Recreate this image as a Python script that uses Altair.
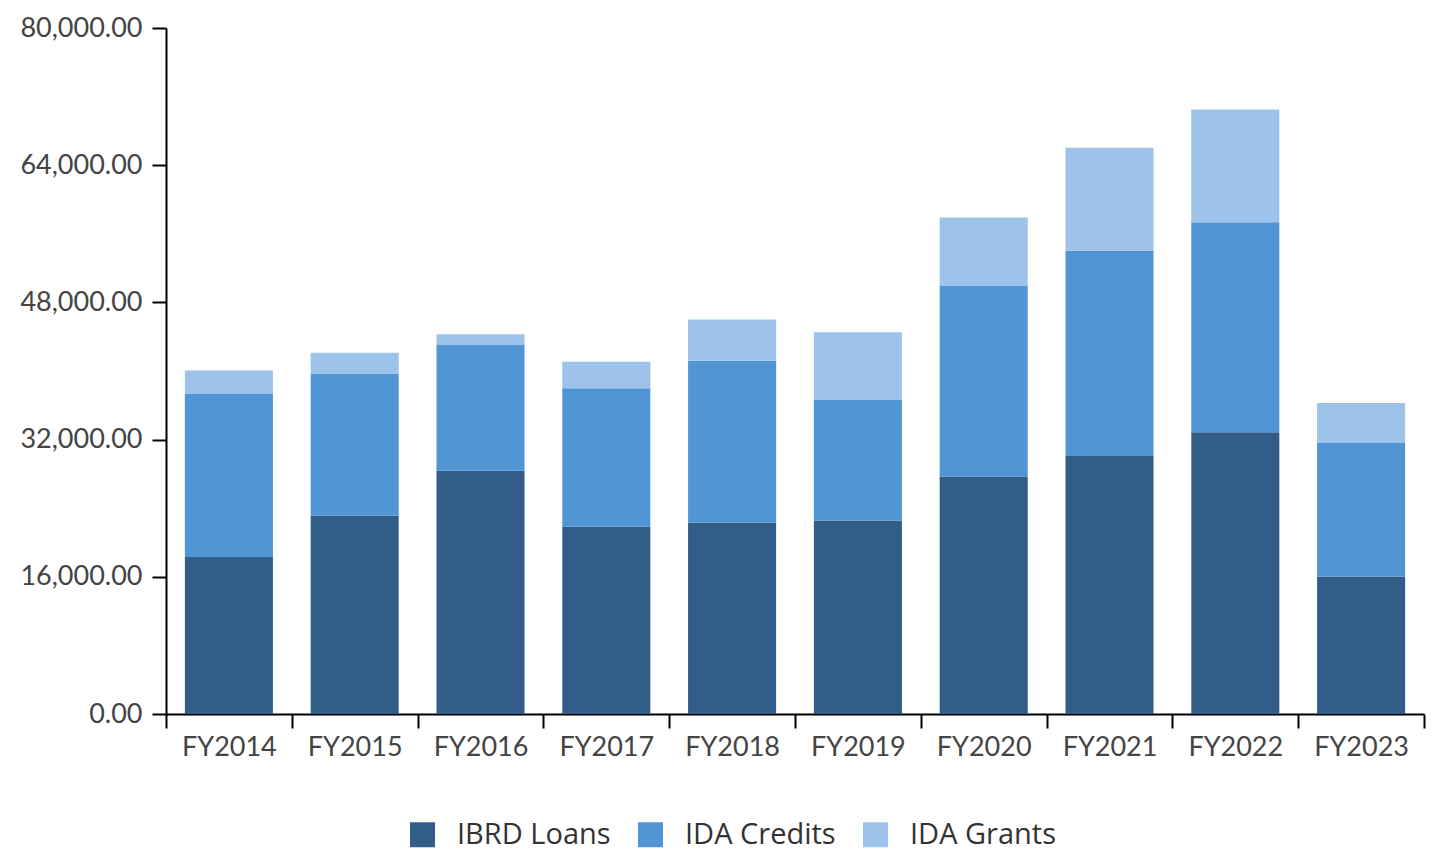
import altair as alt
import pandas as pd

years = ["FY2014", "FY2015", "FY2016", "FY2017", "FY2018",
         "FY2019", "FY2020", "FY2021", "FY2022", "FY2023"]
ibrd_loans = [18310, 23120, 28380, 21860, 22320, 22550, 27700, 30100, 32850, 16020]
ida_credits = [19000, 16590, 14650, 16140, 18880, 14070, 22200, 23920, 24490, 15570]
ida_grants = [2750, 2410, 1260, 3090, 4810, 7900, 8010, 12020, 13160, 4690]
series = ["IBRD Loans", "IDA Credits", "IDA Grants"]
colors = ["#335d89", "#5295d4", "#9dc3ea"]
y_ticks = [0, 16000, 32000, 48000, 64000, 80000]

rows = []
for i, y in enumerate(years):
    for s, vals in zip(series, [ibrd_loans, ida_credits, ida_grants]):
        rows.append({"year": y, "series": s, "value": vals[i], "order": series.index(s)})
df = pd.DataFrame(rows)

chart = alt.Chart(df).mark_bar(width=alt.RelativeBandSize(0.7)).encode(
    x=alt.X("year:N", sort=years, title=None,
            scale=alt.Scale(paddingInner=0, paddingOuter=0),
            axis=alt.Axis(labelAngle=0, tickBand="extent", tickSize=14, tickColor="#000",
                          tickWidth=2, domainColor="#000", domainWidth=2,
                          labelFont="Lato", labelFontSize=27, labelColor="#444",
                          labelPadding=6, labelLimit=400)),
    y=alt.Y("value:Q", stack="zero", title=None,
            scale=alt.Scale(domain=[0, 80000], nice=False),
            axis=alt.Axis(values=y_ticks, format=",.2f", grid=False, tickSize=14,
                          tickColor="#000", tickWidth=2, domainColor="#000", domainWidth=2,
                          labelFont="Lato", labelFontSize=27, labelColor="#444",
                          labelPadding=10, labelLimit=400)),
    color=alt.Color("series:N", sort=series,
                    scale=alt.Scale(domain=series, range=colors),
                    legend=alt.Legend(title=None, orient="none", direction="horizontal",
                                      legendX=242, legendY=792, symbolType="square",
                                      symbolSize=625, symbolStrokeWidth=0, symbolOpacity=1,
                                      labelFont="Open Sans", labelFontSize=29,
                                      labelColor="#333", labelOffset=20, columnPadding=25,
                                      labelLimit=400, padding=0)),
    order=alt.Order("order:Q"),
).properties(
    width=1258, height=686,
    autosize=alt.AutoSizeParams(type="none"),
    padding={"left": 158, "top": 20, "right": 2, "bottom": 137},
).configure_view(stroke=None)

chart.save("out.html", embed_options={"renderer": "svg", "actions": False})
